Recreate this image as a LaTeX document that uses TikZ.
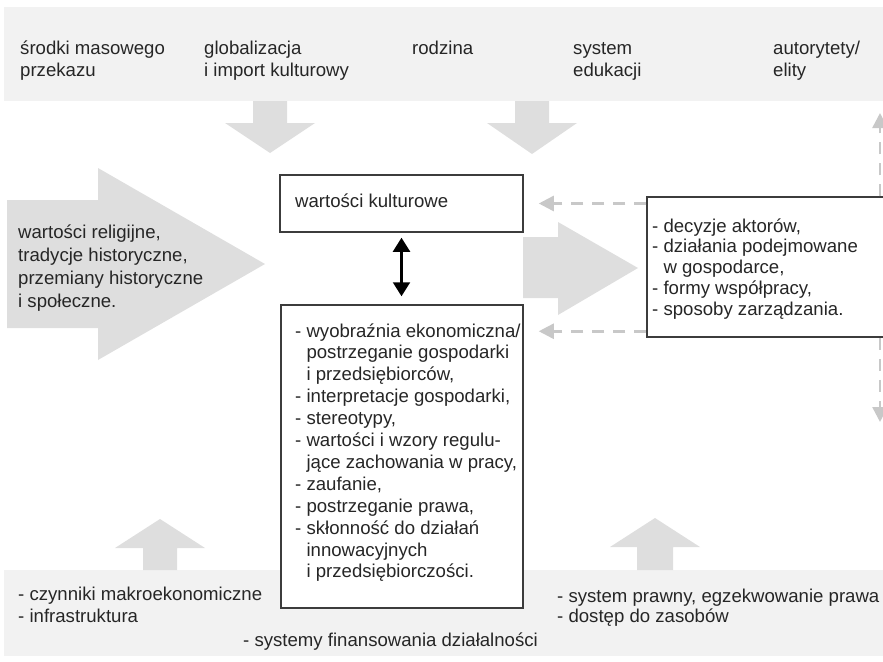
\documentclass[tikz,border=0pt]{standalone}
\usepackage{fontspec}
\setmainfont{Liberation Sans}
\usetikzlibrary{arrows.meta}

\definecolor{band}{HTML}{F2F2F2}
\definecolor{blockarrow}{HTML}{DEDEDE}
\definecolor{dashgray}{HTML}{C8C8C8}
\definecolor{ink}{HTML}{262626}
\definecolor{frame}{HTML}{3C3C3C}

\begin{document}
\begin{tikzpicture}[x=1pt,y=-1pt,
  txt/.style={anchor=north west, inner sep=0pt, align=left, text=ink,
    font=\fontsize{18.6}{#1}\selectfont},
  txt/.default=21.7,
  bandfill/.style={fill=band},
  blockfill/.style={fill=blockarrow},
  box/.style={draw=frame, line width=1.5pt, fill=white, inner sep=0pt},
  dasharrow/.style={draw=dashgray, line width=2.5pt, dash pattern=on 12pt off 9pt,
    -{Triangle[length=15pt,width=15pt,fill=dashgray]}},
  dblarrow/.style={draw=black, line width=2.2pt,
    {Triangle[length=14pt,width=17pt]}-{Triangle[length=14pt,width=17pt]}}
]
\useasboundingbox (0,0) rectangle (883,661);
\clip (0,0) rectangle (883,661);

% grey bands with the outer factors
\fill[bandfill] (4,7) rectangle (883,101);
\fill[bandfill] (4,570) rectangle (883,656);

% block arrows
\fill[blockfill] (7,200) -- (98,200) -- (98,168) -- (265,264) -- (98,360) -- (98,328) -- (7,328) -- cycle;
\fill[blockfill] (523,237) -- (558,237) -- (558,222) -- (638,268) -- (558,315) -- (558,298) -- (523,298) -- cycle;
\fill[blockfill] (253,101) -- (287,101) -- (287,123) -- (315,123) -- (270,153) -- (225,123) -- (253,123) -- cycle;
\fill[blockfill] (515,101) -- (549,101) -- (549,123) -- (577,123) -- (532,154) -- (487,123) -- (515,123) -- cycle;
\fill[blockfill] (143,570) -- (177,570) -- (177,548) -- (205,548) -- (160,519) -- (115,548) -- (143,548) -- cycle;
\fill[blockfill] (637,570) -- (673,570) -- (673,547) -- (700,547) -- (655,518) -- (610,547) -- (637,547) -- cycle;

% boxes
\node[box, minimum width=243pt, minimum height=57pt] (ubox) at (401.5,203.5) {};
\node[box, minimum width=242pt, minimum height=303pt] (lbox) at (402,456.5) {};
\node[box, minimum width=243pt, minimum height=140pt] (rbox) at (768.5,267) {};

% feedback connectors
\coordinate (utip) at ([xshift=15pt]ubox.east);
\coordinate (ltip) at ([xshift=15pt,yshift=-27pt]lbox.north east);
\coordinate (uptip) at (880,113);
\coordinate (dntip) at (880,422);
\draw[dasharrow] (rbox.west |- utip) -- (utip);
\draw[dasharrow] (rbox.west |- ltip) -- (ltip);
\draw[dasharrow] (rbox.north -| uptip) -- (uptip);
\draw[dasharrow] (rbox.south -| dntip) -- (dntip);

% two-way link between the boxes
\draw[dblarrow, shorten <=5pt, shorten >=8pt] (ubox.south) -- (ubox.south |- lbox.north);

% top band labels
\node[txt=21] (t1) at (20,40.1) {\strut środki masowego\\przekazu};
\node[txt=21] (t2) at (204,40.1) {\strut globalizacja\\i import kulturowy};
\node[txt=21] (t3) at (412,40.1) {\strut rodzina};
\node[txt=21] (t4) at (573,40.1) {\strut system\\edukacji};
\node[txt=21] (t5) at (773,40.1) {\strut autorytety/\\elity};

% left arrow label
\node[txt=23] (hist) at (18,221.7) {\strut wartości religijne,\\tradycje historyczne,\\przemiany historyczne\\i społeczne.};

% box contents
\node[txt] (kult) at (295,192.6) {\strut wartości kulturowe};
\node[txt=21.9] (wyobr) at (295,321.5) {\strut - wyobraźnia ekonomiczna/\\
\hphantom{- }postrzeganie gospodarki\\
\hphantom{- }i przedsiębiorców,\\
- interpretacje gospodarki,\\
- stereotypy,\\
- wartości i wzory regulu-\\
\hphantom{- }jące zachowania w pracy,\\
- zaufanie,\\
- postrzeganie prawa,\\
- skłonność do działań\\
\hphantom{- }innowacyjnych\\
\hphantom{- }i przedsiębiorczości.};
\node[txt=20.8] (akt) at (652,217.3) {\strut - decyzje aktorów,\\
- działania podejmowane\\
\hphantom{- }w gospodarce,\\
- formy współpracy,\\
- sposoby zarządzania.};

% bottom band labels
\node[txt=22] (b1) at (18,584.4) {\strut - czynniki makroekonomiczne\\- infrastruktura};
\node[txt] (b2) at (243,631.6) {\strut - systemy finansowania działalności};
\node[txt=20] (b3) at (557,587.8) {\strut - system prawny, egzekwowanie prawa\\- dostęp do zasobów};
\end{tikzpicture}
\end{document}
